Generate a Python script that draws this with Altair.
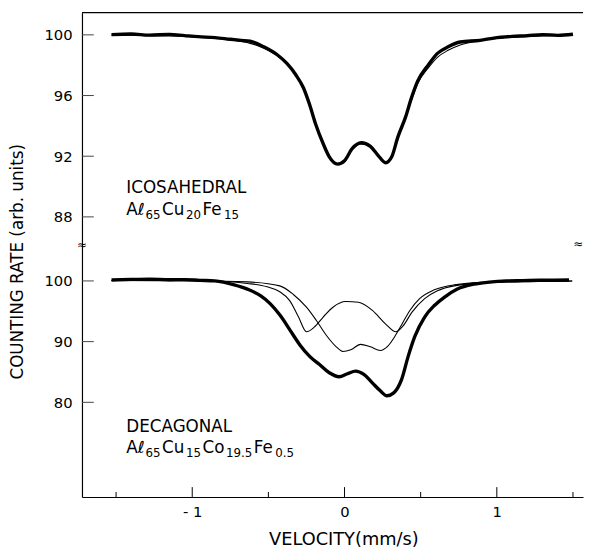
import altair as alt
import pandas as pd

FONT = "DejaVu Sans"

# tick values
x_major = [-1, 0, 1]
x_minor = [-1.5, -0.5, 0.5, 1.5]
top_ticks = [88, 92, 96, 100]
bot_ticks = [80, 90, 100]

# Icosahedral Al65Cu20Fe15 (top panel)
ico_vel = [-1.53, -1.40, -1.28, -1.15, -1.05, -0.96, -0.85, -0.75, -0.68, -0.62, -0.53,
           -0.44, -0.38, -0.32, -0.27, -0.23, -0.19, -0.14, -0.10, -0.045, 0.00, 0.05,
           0.11, 0.17, 0.22, 0.27, 0.31, 0.35, 0.40, 0.44, 0.48, 0.55, 0.61, 0.68, 0.76,
           0.89, 0.98, 1.10, 1.20, 1.30, 1.40, 1.50]
ico_data = [100.02, 100.06, 99.98, 100.03, 99.95, 99.88, 99.82, 99.71, 99.64, 99.58, 99.21,
            98.67, 98.13, 97.37, 96.51, 95.42, 94.12, 92.82, 91.96, 91.48, 91.70, 92.50,
            92.89, 92.65, 92.06, 91.57, 91.96, 93.26, 94.56, 95.86, 96.94, 98.02, 98.78,
            99.21, 99.53, 99.64, 99.79, 99.90, 99.95, 100.02, 99.97, 100.04]
ico_fit = [99.98, 99.97, 99.95, 99.93, 99.89, 99.84, 99.77, 99.67, 99.56, 99.44, 99.12,
           98.62, 98.10, 97.35, 96.50, 95.45, 94.15, 92.85, 91.97, 91.52, 91.74, 92.45,
           92.80, 92.60, 92.05, 91.62, 92.00, 93.20, 94.48, 95.72, 96.78, 97.82, 98.52,
           98.98, 99.33, 99.62, 99.74, 99.83, 99.88, 99.92, 99.95, 99.97]

# Decagonal Al65Cu15Co19.5Fe0.5 (bottom panel)
dec_vel = [-1.53, -1.40, -1.28, -1.15, -1.05, -0.95, -0.853, -0.724, -0.638, -0.552, -0.487,
           -0.423, -0.358, -0.293, -0.229, -0.164, -0.100, -0.035, 0.019, 0.073, 0.127,
           0.181, 0.235, 0.278, 0.321, 0.375, 0.418, 0.461, 0.526, 0.590, 0.655, 0.741,
           0.849, 0.95, 1.064, 1.17, 1.280, 1.38, 1.474]
dec_data = [100.15, 100.25, 100.3, 100.2, 100.22, 100.1, 100.0, 99.35, 98.65, 97.57, 96.22,
            94.33, 91.90, 89.46, 87.57, 86.22, 84.87, 84.22, 84.71, 85.14, 84.60, 83.25,
            81.89, 81.08, 81.52, 83.79, 87.57, 90.81, 94.05, 95.95, 97.30, 98.66, 99.46,
            99.8, 100.0, 100.05, 100.11, 100.12, 100.16]

subA_vel = [-1.53, -0.961, -0.787, -0.638, -0.509, -0.425, -0.360, -0.302, -0.250, -0.199,
            -0.140, -0.076, 0.008, 0.092, 0.183, 0.267, 0.338, 0.383, 0.442, 0.526, 0.610,
            0.720, 0.978, 1.495]
subA_val = [100.08, 100.03, 99.92, 99.59, 99.03, 98.22, 96.76, 94.05, 91.62, 92.38, 94.05,
            95.67, 96.60, 96.48, 95.14, 92.98, 91.62, 92.54, 94.81, 97.08, 98.38, 99.19,
            99.76, 100.0]

subB_vel = [-1.53, -0.961, -0.638, -0.425, -0.334, -0.250, -0.186, -0.121, -0.056, -0.011,
            0.041, 0.105, 0.170, 0.235, 0.286, 0.332, 0.377, 0.429, 0.493, 0.590, 0.720,
            0.978, 1.495]
subB_val = [100.08, 100.03, 99.84, 99.19, 97.73, 95.67, 93.52, 91.09, 89.19, 88.38, 88.65,
            89.55, 89.14, 88.54, 89.30, 90.92, 92.87, 95.14, 97.08, 98.54, 99.35, 99.84, 100.0]

# annotation texts: (segment, is_subscript)
ico_name = "ICOSAHEDRAL"
ico_formula = [("Aℓ", False), ("65", True), ("Cu", False), ("20", True), ("Fe", False), ("15", True)]
dec_name = "DECAGONAL"
dec_formula = [("Aℓ", False), ("65", True), ("Cu", False), ("15", True), ("Co", False),
               ("19.5", True), ("Fe", False), ("0.5", True)]
label_x = -1.433
ico_name_y, ico_formula_y = 89.56, 88.15
dec_name_y, dec_formula_y = 75.13, 71.61

# horizontal offset of each formula segment (layout, px)
ico_dx = [0, 19.5, 36.3, 60.5, 77.3, 99.0]
dec_dx = [0, 19.5, 36.3, 60.5, 77.3, 101.1, 129.3, 151.0]

W = 508
H_TOP = 233
H_BOT = 258
MAIN_FS = 17
SUB_FS = 12

xs = alt.Scale(domain=[-1.724, 1.566], nice=False, zero=False)
ys_top = alt.Scale(domain=[86.31, 101.46], nice=False, zero=False)
ys_bot = alt.Scale(domain=[64.40, 106.33], nice=False, zero=False)

ax_top_y = alt.Axis(values=top_ticks, ticks=False, grid=False, title=None, domain=True,
                    domainColor="black", domainWidth=1.2, labelPadding=10,
                    labelFont=FONT, labelFontSize=15, labelColor="black")
ax_bot_x = alt.Axis(values=x_major, ticks=False, grid=False, domain=True,
                    domainColor="black", domainWidth=1.2, labelPadding=8,
                    labelFont=FONT, labelFontSize=15, labelColor="black",
                    labelExpr="datum.value < 0 ? '- ' + format(-datum.value, 'd') : format(datum.value, 'd')",
                    title="VELOCITY(mm/s)", titleFont=FONT, titleFontSize=18,
                    titleFontWeight="normal", titleColor="black", titlePadding=11,
                    titleX=265)
ax_bot_y = alt.Axis(values=bot_ticks, ticks=False, grid=False, domain=True,
                    domainColor="black", domainWidth=1.2, labelPadding=10,
                    labelFont=FONT, labelFontSize=15, labelColor="black",
                    title="COUNTING RATE (arb. units)", titleFont=FONT, titleFontSize=17,
                    titleFontWeight="normal", titleColor="black", titlePadding=18,
                    titleY=19)

XT = alt.X("v:Q", scale=xs, axis=None)
YT = alt.Y("c:Q", scale=ys_top, axis=ax_top_y)
XB = alt.X("v:Q", scale=xs, axis=ax_bot_x)
YB = alt.Y("c:Q", scale=ys_bot, axis=ax_bot_y)

ico_df = pd.DataFrame({"v": ico_vel, "c": ico_data})
ico_fit_df = pd.DataFrame({"v": ico_vel, "c": ico_fit})
dec_df = pd.DataFrame({"v": dec_vel, "c": dec_data})
a_df = pd.DataFrame({"v": subA_vel, "c": subA_val})
b_df = pd.DataFrame({"v": subB_vel, "c": subB_val})


def text_layers(name, name_y, formula, formula_y, dxs, X, Y):
    layers = [
        alt.Chart(pd.DataFrame({"v": [label_x], "c": [name_y], "s": [name]})).mark_text(
            align="left", baseline="alphabetic", font=FONT, fontSize=MAIN_FS, color="black"
        ).encode(x=X, y=Y, text="s:N")
    ]
    for (seg, is_sub), dx in zip(formula, dxs):
        layers.append(
            alt.Chart(pd.DataFrame({"v": [label_x], "c": [formula_y], "s": [seg]})).mark_text(
                align="left", baseline="alphabetic", font=FONT,
                fontSize=SUB_FS if is_sub else MAIN_FS, color="black",
                dx=dx, dy=4 if is_sub else 0,
            ).encode(x=X, y=Y, text="s:N")
        )
    return layers


# ---------- top panel ----------
top_data = alt.Chart(ico_df).mark_line(color="black", strokeWidth=3.4, interpolate="monotone").encode(x=XT, y=YT)
top_fit = alt.Chart(ico_fit_df).mark_line(color="black", strokeWidth=1.1, interpolate="monotone").encode(x=XT, y=YT)
top_yt = alt.Chart(pd.DataFrame({"c": top_ticks})).mark_rule(color="#444", strokeWidth=1).encode(
    y=YT, x=alt.value(0), x2=alt.value(12))
top_border = alt.Chart(pd.DataFrame({"s": ["border"]})).mark_rule(color="black", strokeWidth=1.2).encode(
    x=alt.value(0), x2=alt.value(W), y=alt.value(0))
top = alt.layer(top_data, top_fit, top_yt, top_border,
                *text_layers(ico_name, ico_name_y, ico_formula, ico_formula_y, ico_dx, XT, YT)
                ).properties(width=W, height=H_TOP)

# ---------- bottom panel ----------
bot_data = alt.Chart(dec_df).mark_line(color="black", strokeWidth=3.4, interpolate="monotone").encode(x=XB, y=YB)
sub_a = alt.Chart(a_df).mark_line(color="black", strokeWidth=1.1, interpolate="monotone").encode(x=XB, y=YB)
sub_b = alt.Chart(b_df).mark_line(color="black", strokeWidth=1.1, interpolate="monotone").encode(x=XB, y=YB)
bot_yt = alt.Chart(pd.DataFrame({"c": bot_ticks})).mark_rule(color="#444", strokeWidth=1).encode(
    y=YB, x=alt.value(0), x2=alt.value(12))
xt_major = alt.Chart(pd.DataFrame({"v": x_major})).mark_rule(color="black", strokeWidth=1).encode(
    x=XB, y=alt.value(H_BOT - 10), y2=alt.value(H_BOT))
xt_minor = alt.Chart(pd.DataFrame({"v": x_minor})).mark_rule(color="black", strokeWidth=1).encode(
    x=XB, y=alt.value(H_BOT - 5), y2=alt.value(H_BOT))
brk_df = pd.DataFrame({"s": ["≈"]})
brk_left = alt.Chart(brk_df).mark_text(font=FONT, fontSize=12, color="black", baseline="middle").encode(
    x=alt.value(0), y=alt.value(3), text="s:N")
brk_right = alt.Chart(brk_df).mark_text(font=FONT, fontSize=12, color="black", baseline="middle").encode(
    x=alt.value(W - 5), y=alt.value(2), text="s:N")

bot = alt.layer(bot_data, sub_a, sub_b, bot_yt, xt_major, xt_minor, brk_left, brk_right,
                *text_layers(dec_name, dec_name_y, dec_formula, dec_formula_y, dec_dx, XB, YB)
                ).properties(width=W, height=H_BOT)

chart = alt.vconcat(top, bot, spacing=0).properties(
    padding=0, background="white", bounds="flush"
).configure_view(stroke=None)

chart.save("out.html", embed_options={"renderer": "svg", "actions": False})
